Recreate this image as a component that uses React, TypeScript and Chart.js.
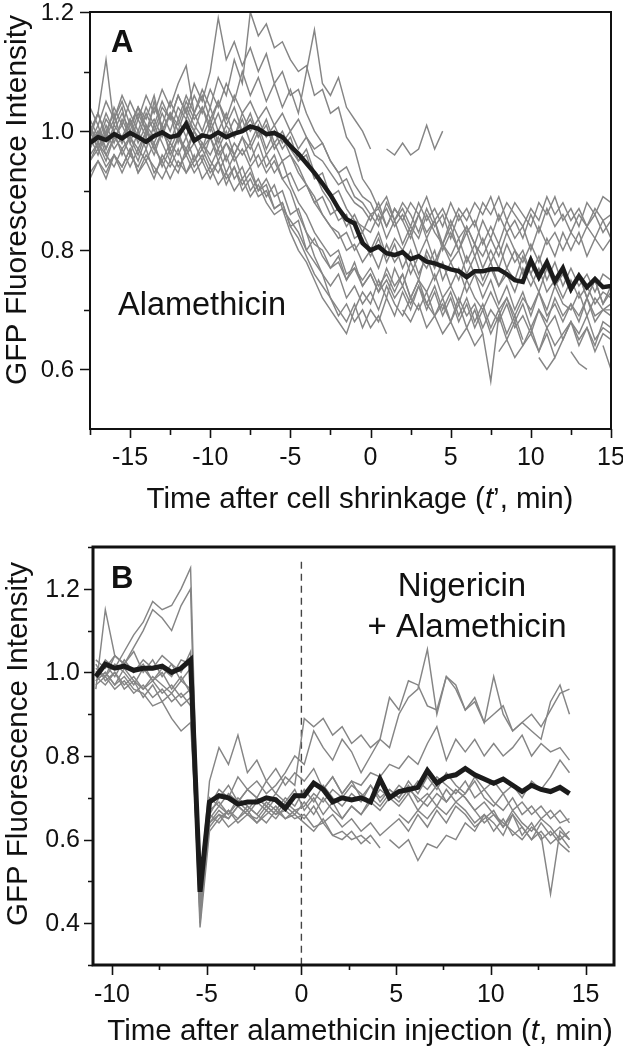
import React, { useEffect, useRef } from "react";
import { Chart, registerables } from "chart.js";

Chart.register(...registerables);

// ---------------- Panel A data ----------------
const timeA = [
  -17.5, -17, -16.5, -16, -15.5, -15, -14.5, -14, -13.5, -13, -12.5, -12, -11.5, -11, -10.5,
  -10, -9.5, -9, -8.5, -8, -7.5, -7, -6.5, -6, -5.5, -5, -4.5, -4, -3.5, -3, -2.5, -2, -1.5,
  -1, -0.5, 0, 0.5, 1, 1.5, 2, 2.5, 3, 3.5, 4, 4.5, 5, 5.5, 6, 6.5, 7, 7.5, 8, 8.5, 9, 9.5,
  10, 10.5, 11, 11.5, 12, 12.5, 13, 13.5, 14, 14.5, 15,
];

const meanA = [
  0.98, 0.99, 0.985, 0.995, 0.988, 0.997, 0.99, 0.982, 0.992, 0.998,
  0.99, 0.993, 1.012, 0.984, 0.993, 0.99, 0.998, 0.99, 0.996, 1.0,
  1.008, 1.004, 0.995, 0.997, 0.99, 0.975, 0.962, 0.946, 0.93, 0.912,
  0.893, 0.87, 0.852, 0.845, 0.812, 0.8, 0.806, 0.795, 0.792, 0.797,
  0.785, 0.79, 0.781, 0.778, 0.773, 0.768, 0.765, 0.755, 0.765, 0.765,
  0.768, 0.768, 0.76, 0.75, 0.747, 0.783, 0.755, 0.78, 0.748, 0.77,
  0.735, 0.757, 0.738, 0.752, 0.738, 0.74,
];

const traceA01 = [
  0.99, 1.03, 1.12, 1.01, 1.04, 0.98, 1.02, 0.99, 1.05, 1.0, 1.03, 0.98, 1.02, 1.0, 0.97,
  1.01, 0.97, 1.0, 0.96, 0.99, 0.95, 0.98, 0.94, 0.96, 0.92, 0.93, 0.9, 0.91, 0.88, 0.89,
  0.86, 0.87, 0.84, 0.86, 0.83, 0.86, 0.84, 0.88, 0.85, 0.87, 0.84, 0.88, 0.85, 0.87, 0.84,
  0.88, 0.85, 0.87, 0.84, 0.88, 0.86, 0.89, 0.85, 0.88, 0.86, 0.84, 0.88, 0.86, 0.89, 0.85,
  0.87, 0.84, 0.88, 0.86, 0.89, 0.88,
];
const traceA02 = [
  0.96, 0.98, 0.95, 0.99, 0.97, 0.99, 0.96, 1.0, 0.97, 0.95, 0.98, 0.96, 0.99, 0.95, 0.97,
  0.94, 0.97, 0.93, 0.96, 0.92, 0.94, 0.9, 0.91, 0.87, 0.88, 0.84, 0.85, 0.8, 0.78, 0.76,
  0.74, 0.76, 0.72, 0.74, 0.71, 0.73, 0.7, 0.74, 0.71, 0.69, 0.72, 0.7, 0.73, 0.69, 0.71,
  0.68, 0.72, 0.69, 0.71, 0.67, 0.7, 0.68, 0.71, 0.67, 0.69, 0.66, 0.7, 0.67, 0.69, 0.65,
  0.68, 0.66, 0.69, 0.65, 0.67, 0.66,
];
const traceA03 = [
  0.93, 0.95, 0.92, 0.96, 0.94, 0.97, 0.93, 0.96, 0.94, 0.92, 0.95, 0.93, 0.97, 0.94, 0.96,
  0.93, 0.95, 0.92, 0.94, 0.91, 0.93, 0.9, 0.92, 0.89, 0.9, 0.86, 0.87, 0.83, 0.81, 0.8,
  0.77, 0.78, 0.75, 0.77, 0.74, 0.76, 0.73, 0.77, 0.74, 0.76, 0.72, 0.75, 0.73, 0.76, 0.72,
  0.74, 0.71, 0.75, 0.72, 0.7, 0.73, 0.7, 0.72, 0.69, 0.72, 0.7, 0.73, 0.69, 0.71, 0.68,
  0.71, 0.69, 0.72, 0.68, 0.7, 0.69,
];
const traceA04 = [
  1.0, 1.03, 0.99, 1.04, 1.01, 1.05, 1.02, 1.06, 1.03, 1.07, 1.04, 1.08, 1.11, 1.03, 1.06,
  1.02, 1.05, 1.01, 1.04, 1.0, 1.03, 0.99, 1.02, 0.98, 1.0, 0.97, 0.95, 0.96, 0.92, 0.93,
  0.89, 0.9, 0.87, 0.85, 0.84, 0.83, 0.86, 0.82, 0.85, 0.81, 0.84, 0.82, 0.86, 0.83, 0.81,
  0.85, 0.82, 0.84, 0.81, 0.85, 0.82, 0.86, 0.83, 0.85, 0.82, 0.86, 0.83, 0.87, 0.84, 0.86,
  0.83, 0.86, 0.84, 0.87, 0.85, 0.86,
];
const traceA05 = [
  0.98, 1.0, 0.97, 1.01, 0.99, 1.02, 0.99, 1.03, 1.0, 1.04, 1.02, 1.06, 1.03, 1.08, 1.05,
  1.1, 1.19, 1.12, 1.15, 1.11, 1.14, 1.1, 1.13, 1.08, 1.1, 1.06, 1.07, 1.03, 1.0, 0.98,
  0.95, 0.93, 0.9, 0.88, 0.87, 0.85, 0.88, 0.84, 0.87, 0.85, 0.88, 0.86, 0.89, 0.85, 0.87,
  0.84, 0.87, 0.85, 0.88, 0.86, 0.89, 0.85, 0.88, 0.86, 0.84, 0.87, 0.85, 0.89, 0.86, 0.88,
  0.85, 0.87, 0.84, 0.86, 0.83, 0.85,
];
const traceA06 = [
  1.0, 0.97, 1.01, 0.98, 1.02, 0.99, 1.03, 1.0, 1.04, 1.01, 1.05, 1.02, 1.06, 1.03, 1.07,
  1.04, 1.09, 1.06, 1.12, 1.08, 1.2, 1.16, 1.18, 1.14, 1.15, 1.12, 1.1, 1.11, 1.06, 1.07,
  1.03, 1.04, 0.99, 0.97, 0.92, 0.9, 0.87, 0.89, 0.85, 0.88, 0.86, 0.83, 0.87, 0.84, 0.86,
  0.82, 0.86, 0.83, 0.85, 0.81, 0.84, 0.81, 0.85, 0.82, 0.84, 0.8, 0.84, 0.81, 0.83, 0.8,
  0.83, 0.81, 0.84, 0.82, 0.85, 0.82,
];
const traceA07 = [
  1.01, 0.98, 1.02, 1.0, 1.03, 1.0, 1.04, 1.01, 0.99, 1.03, 1.0, 1.04, 1.02, 1.06, 1.03,
  1.07, 1.04, 1.08, 1.05, 1.1, 1.06, 1.09, 1.05, 1.08, 1.04, 1.07, 1.03, 1.1, 1.17, 1.08,
  1.06, 1.09, 1.04, 1.02, 1.0, 0.97, null, 0.97, 0.96, 0.98, 0.96, 0.97, 1.01, 0.97, 1.0,
  null, null, null, null, null, null, null, null, null, null, null, null, null, null, null,
  null, null, null, null, null, null,
];
const traceA08 = [
  0.97, 1.0, 0.96, 0.99, 1.01, 0.98, 0.95, 0.99, 0.96, 1.0, 0.97, 1.0, 0.96, 0.98, 0.95,
  0.99, 0.96, 0.98, 0.95, 0.97, 0.94, 0.96, 0.93, 0.95, 0.92, 0.9, 0.86, 0.83, 0.79, 0.76,
  0.72, 0.7, 0.68, 0.71, 0.67, 0.7, 0.68, 0.72, 0.69, 0.73, 0.7, 0.74, 0.71, 0.69, 0.72,
  0.68, 0.71, 0.67, 0.7, 0.66, 0.58, 0.69, 0.72, 0.68, 0.71, 0.67, 0.7, 0.68, 0.72, 0.69,
  0.71, 0.68, 0.72, 0.69, 0.7, 0.7,
];
const traceA09 = [
  0.99, 0.96, 1.0, 0.97, 0.99, 0.96, 1.0, 0.97, 1.01, 0.98, 0.95, 0.99, 0.96, 1.0, 0.97,
  0.99, 0.95, 0.98, 0.96, 0.99, 0.97, 1.0, 0.96, 0.98, 0.95, 0.96, 0.93, 0.91, 0.88, 0.86,
  0.84, 0.83, 0.8, 0.81, 0.78, 0.8, 0.77, 0.81, 0.78, 0.8, 0.76, 0.79, 0.77, 0.8, 0.75,
  0.78, 0.75, 0.79, 0.76, 0.74, 0.77, 0.74, 0.76, 0.73, 0.77, 0.74, 0.77, 0.73, 0.75, 0.72,
  0.75, 0.72, 0.74, 0.71, 0.73, 0.72,
];
const traceA10 = [
  0.95, 0.97, 0.94, 0.96, 0.93, 0.96, 0.94, 0.97, 0.93, 0.95, 0.92, 0.95, 0.93, 0.96, 0.92,
  0.94, 0.91, 0.93, 0.9, 0.92, 0.89, 0.91, 0.88, 0.86, 0.87, 0.83, 0.8, 0.78, 0.75, 0.72,
  0.7, 0.68, 0.66, 0.7, 0.73, 0.71, 0.75, 0.72, 0.77, 0.74, 0.78, 0.75, 0.8, 0.77, 0.81,
  0.78, 0.8, 0.76, 0.79, 0.75, 0.78, 0.74, 0.77, 0.75, 0.79, 0.76, 0.73, 0.77, 0.74, 0.76,
  0.73, 0.76, 0.72, 0.75, 0.71, 0.73,
];
const traceA11 = [
  1.02, 0.99, 1.03, 1.0, 0.98, 1.01, 1.04, 1.0, 1.02, 0.99, 1.03, 1.0, 1.04, 1.01, 0.99,
  1.02, 0.98, 1.01, 0.99, 1.03, 1.0, 1.02, 0.99, 1.01, 0.98, 1.0, 0.97, 0.99, 0.96, 0.95,
  0.93, 0.91, 0.92, 0.89, 0.88, 0.86, 0.87, 0.84, 0.87, 0.85, 0.82, 0.86, 0.83, 0.85, 0.8,
  0.83, 0.8, 0.84, 0.81, 0.79, 0.82, 0.79, 0.83, 0.8, 0.78, 0.81, 0.78, 0.82, 0.79, 0.83,
  0.8, 0.83, 0.79, 0.82, 0.8, 0.82,
];
const traceA12 = [
  0.98, 1.01, 0.97, 1.0, 0.96, 0.99, 0.97, 1.0, 0.98, 1.01, 0.96, 0.99, 0.97, 1.0, 0.98,
  0.96, 0.99, 0.95, 0.98, 0.96, 0.98, 0.94, 0.96, 0.93, 0.95, 0.91, 0.88, 0.86, 0.83, 0.81,
  0.79, 0.8, 0.76, 0.77, 0.75, 0.77, 0.74, 0.76, 0.73, 0.76, 0.72, 0.75, 0.71, 0.74, 0.7,
  0.73, 0.69, 0.72, 0.68, 0.71, 0.67, 0.7, 0.66, 0.69, 0.65, null, 0.62, 0.6, 0.62, null,
  0.63, 0.61, 0.6, null, 0.64, 0.6,
];
const traceA13 = [
  1.0, 1.03, 0.99, 1.02, 1.05, 1.01, 1.04, 1.02, 1.06, 1.0, 1.03, 1.01, 1.05, 1.02, 1.04,
  1.0, 1.03, 0.99, 1.02, 1.0, 1.02, 0.99, 1.01, 0.97, 0.99, 0.96, 0.94, 0.91, 0.89, 0.86,
  0.84, 0.82, 0.83, 0.8, 0.82, 0.79, 0.82, 0.78, 0.81, 0.77, 0.8, 0.76, 0.79, 0.75, 0.78,
  0.74, 0.77, 0.73, 0.76, 0.72, 0.75, 0.71, 0.74, 0.7, 0.73, 0.69, 0.73, 0.7, 0.74, 0.71,
  0.7, 0.73, 0.69, 0.72, 0.7, 0.71,
];
const traceA14 = [
  0.95, 0.98, 0.96, 0.94, 0.97, 0.94, 0.97, 0.95, 0.98, 0.94, 0.97, 0.94, 0.96, 0.93, 0.95,
  0.92, 0.95, 0.91, 0.94, 0.9, 0.92, 0.89, 0.9, 0.87, 0.88, 0.84, 0.82, 0.79, 0.76, 0.74,
  0.72, 0.69, 0.71, 0.68, 0.7, 0.67, 0.69, 0.66, null, 0.7, 0.68, 0.71, 0.67, 0.69, 0.66,
  0.68, 0.65, 0.67, 0.64, 0.66, null, 0.63, 0.65, 0.62, 0.64, 0.66, 0.63, 0.67, 0.64, 0.66,
  0.68, 0.65, 0.67, 0.64, 0.68, 0.67,
];
const traceA15 = [
  1.04, 1.01, 1.05, 1.02, 1.06, 1.03, 1.0, 1.04, 1.01, 1.05, 1.02, 1.06, 1.03, 1.0, 1.04,
  1.01, 1.05, 1.02, 1.06, 1.03, 1.05, 1.02, 1.04, 1.01, 1.03, 1.0, 1.02, 0.99, 0.97, 0.98,
  0.95, 0.93, 0.94, 0.91, 0.89, 0.88, 0.85, 0.87, 0.84, 0.86, 0.83, 0.86, 0.82, 0.85, 0.81,
  0.84, 0.8, 0.83, 0.79, 0.82, 0.78, 0.81, 0.77, 0.8, 0.76, 0.79, 0.75, 0.78, 0.74, 0.77,
  0.73, 0.76, 0.72, 0.75, 0.71, 0.74,
];
const traceA16 = [
  0.92, 0.95, 0.93, 0.96, 0.94, 0.97, 0.93, 0.95, 0.92, 0.96, 0.94, 0.97, 0.93, 0.95, 0.98,
  0.95, 0.93, 0.96, 0.92, 0.94, 0.9, 0.92, 0.89, 0.91, 0.87, 0.85, 0.83, 0.8, 0.82, 0.79,
  0.77, 0.79, 0.75, 0.78, 0.74, 0.76, 0.73, 0.75, 0.72, 0.74, 0.71, 0.74, 0.7, 0.73, 0.69,
  0.72, 0.68, 0.71, 0.67, 0.7, 0.66, 0.69, 0.65, 0.68, 0.64, 0.67, 0.63, 0.66, 0.62, 0.65,
  0.68, 0.64, 0.67, 0.63, 0.66, 0.65,
];
const traceA17 = [
  1.01, 0.97, 1.0, 1.03, 0.98, 1.02, 0.98, 1.01, 0.97, 1.0, 0.98, 1.02, 0.99, 1.03, 1.0,
  1.04, 1.0, 1.03, 0.99, 1.02, 0.98, 1.01, 0.97, 1.0, 0.97, 0.99, 0.95, 0.97, 0.93, 0.9,
  0.88, 0.85, 0.86, 0.82, 0.83, 0.8, 0.83, 0.79, 0.82, 0.8, 0.83, 0.79, 0.82, 0.78, 0.81,
  0.79, 0.82, 0.78, 0.81, 0.77, 0.8, 0.77, 0.81, 0.78, 0.8, 0.76, 0.79, 0.75, 0.78, 0.74,
  0.77, 0.74, 0.76, 0.73, 0.76, 0.75,
];

const grayTracesA = [
  traceA01, traceA02, traceA03, traceA04, traceA05, traceA06, traceA07, traceA08, traceA09,
  traceA10, traceA11, traceA12, traceA13, traceA14, traceA15, traceA16, traceA17,
];

// ---------------- Panel B data ----------------
const timeB = [
  -10.85, -10.35, -9.85, -9.35, -8.85, -8.35, -7.85, -7.35, -6.85, -6.35, -5.85, -5.35,
  -4.85, -4.35, -3.85, -3.35, -2.85, -2.35, -1.85, -1.35, -0.85, -0.35,
  0.15, 0.65, 1.15, 1.65, 2.15, 2.65, 3.15, 3.65, 4.15, 4.65,
  5.15, 5.65, 6.15, 6.65, 7.15, 7.65, 8.15, 8.65, 9.15, 9.65,
  10.15, 10.65, 11.15, 11.65, 12.15, 12.65, 13.15, 13.65, 14.15,
];

const meanB = [
  0.99, 1.02, 1.01, 1.015, 1.005, 1.01, 1.01, 1.015, 1.0, 1.01, 1.03,
  0.475,
  0.69, 0.705, 0.7, 0.685, 0.69, 0.69, 0.7, 0.695, 0.675, 0.705,
  0.705, 0.735, 0.72, 0.69, 0.7, 0.695, 0.7, 0.69, 0.745, 0.7,
  0.715, 0.72, 0.725, 0.765, 0.735, 0.75, 0.755, 0.77, 0.755, 0.745,
  0.735, 0.745, 0.73, 0.715, 0.73, 0.72, 0.715, 0.725, 0.71,
];

const traceB01 = [
  0.99, 1.03, 1.01, 1.05, 1.09, 1.12, 1.17, 1.15, 1.16, 1.2, 1.25,
  0.44,
  0.68, 0.72, 0.7, 0.75, 0.72, 0.74, 0.71, 0.73, 0.76, 0.8,
  0.78, 0.86, 0.82, 0.79, 0.84, 0.81, 0.76, 0.8, 0.84, 0.82,
  0.9, 0.94, 0.96, 1.055, 0.9, 0.99, 0.96, 0.91, 0.93, 0.88,
  0.99, 0.9, 0.86, 0.88, 0.86, 0.84, 0.93, 0.97, 0.9,
];
const traceB02 = [
  1.0, 0.99, 1.04, 1.02, 1.06, 1.1, 1.15, 1.13, 1.1, 1.16, 1.2,
  0.4,
  0.66, 0.7, 0.73, 0.69, 0.72, 0.7, 0.74, 0.71, 0.75, 0.73,
  0.89, 0.87, 0.89, 0.85, 0.87, 0.83, 0.85, 0.82, 0.84, 0.94,
  0.91, 0.98, 0.97, 0.92, 0.91, 0.99, 0.97, 0.91, 0.94, 0.88,
  0.9, 0.92, 0.86, 0.88, 0.9, 0.87, 0.91, 0.95, 0.96,
];
const traceB03 = [
  0.98, 1.0, 0.97, 0.99, 0.96, 0.95, 0.92, 0.93, 0.89, 0.86, 0.88,
  0.48,
  0.63, 0.66, 0.65, 0.68, 0.66, 0.69, 0.67, 0.7, 0.68, 0.71,
  0.7, 0.73, 0.72, 0.75, 0.71, 0.74, 0.73, 0.76, 0.75, 0.78,
  0.77, 0.8, 0.78, 0.83, 0.87, 0.79, 0.84, 0.81, 0.84, 0.8,
  0.83, 0.8, 0.82, 0.85, 0.8, 0.83, 0.81, 0.82, 0.79,
];
const traceB04 = [
  0.96, 1.15, 1.04, 1.02, 1.05, 1.0, 1.03, 0.99, 1.02, 0.98, 1.01,
  0.46,
  0.65, 0.68, 0.66, 0.69, 0.67, 0.7, 0.68, 0.66, 0.69, 0.67,
  0.68, 0.71, 0.69, 0.72, 0.7, 0.73, 0.71, 0.69, 0.72, 0.7,
  0.73, 0.71, 0.74, 0.72, 0.75, 0.73, 0.71, 0.74, 0.7, 0.72,
  0.69, 0.67, 0.7, 0.66, 0.68, 0.65, 0.67, 0.64, 0.65,
];
const traceB05 = [
  0.98, 1.0, 0.97, 1.01, 0.98, 0.96, 0.99, 0.97, 0.95, 0.98, 0.96,
  0.39,
  0.62, 0.65, 0.67, 0.64, 0.66, 0.65, 0.68, 0.66, 0.67, 0.65,
  0.66, 0.63, 0.64, 0.61, 0.62, 0.6, 0.61, 0.59, null, 0.6,
  0.58, 0.6, 0.55, 0.59, 0.58, 0.61, 0.6, 0.64, 0.62, 0.66,
  0.64, 0.61, 0.66, 0.63, 0.6, 0.64, 0.61, 0.63, 0.6,
];
const traceB06 = [
  1.02, 0.98, 1.0, 0.97, 0.99, 0.96, 0.98, 0.95, 0.97, 0.94, 0.96,
  0.5,
  0.7, 0.68, 0.71, 0.69, 0.72, 0.7, 0.68, 0.71, 0.69, 0.72,
  0.67, 0.7, 0.66, 0.69, 0.65, 0.68, 0.66, 0.7, 0.68, 0.71,
  0.69, 0.72, 0.7, 0.68, 0.71, 0.69, 0.72, 0.7, 0.67, 0.69,
  0.66, 0.64, 0.62, 0.6, 0.63, 0.61, 0.47, 0.62, 0.6,
];
const traceB07 = [
  1.0, 1.02, 0.99, 1.03, 1.0, 1.02, 0.98, 1.01, 0.99, 1.03, 1.02,
  0.45,
  0.67, 0.69, 0.66, 0.7, 0.68, 0.66, 0.69, 0.67, 0.7, 0.68,
  0.72, 0.69, 0.73, 0.7, 0.68, 0.71, 0.69, 0.73, 0.7, 0.72,
  0.7, 0.74, 0.71, 0.75, 0.72, 0.76, 0.73, 0.71, 0.75, 0.72,
  0.74, 0.71, 0.73, 0.7, 0.74, 0.72, 0.75, 0.79, 0.76,
];
const traceB08 = [
  1.01, 0.99, 1.02, 1.0, 0.97, 1.01, 0.98, 1.0, 0.96, 0.99, 0.95,
  0.47,
  0.66, 0.64, 0.67, 0.65, 0.68, 0.66, 0.64, 0.67, 0.65, 0.66,
  0.64, 0.62, 0.65, 0.61, 0.6, 0.62, 0.59, 0.61, 0.58, null,
  0.66, 0.64, 0.67, 0.65, 0.68, 0.66, 0.69, 0.67, 0.64, 0.66,
  0.62, 0.65, 0.61, 0.63, 0.6, 0.62, 0.59, 0.61, 0.58,
];
const traceB09 = [
  0.97, 0.99, 0.96, 0.98, 0.95, 0.97, 0.94, 0.96, 0.93, 0.95, 0.92,
  0.42,
  0.64, 0.66, 0.63, 0.65, 0.67, 0.64, 0.66, 0.68, 0.65, 0.67,
  0.65, 0.68, 0.64, 0.66, 0.63, 0.65, 0.62, 0.64, 0.61, 0.63,
  0.65, 0.62, 0.66, 0.63, 0.67, 0.64, 0.68, 0.66, 0.63, 0.65,
  0.67, 0.63, 0.66, 0.61, 0.64, 0.6, 0.62, 0.59, 0.57,
];
const traceB10 = [
  1.03, 1.01, 1.04, 1.02, 1.0, 1.03, 1.01, 1.04, 1.02, 1.0, 1.05,
  0.49,
  0.74, 0.82, 0.78, 0.85, 0.76, 0.79, 0.74, 0.77, 0.73, 0.76,
  0.74, 0.77, 0.72, 0.75, 0.71, 0.74, 0.7, 0.73, 0.69, 0.72,
  0.7, 0.73, 0.69, 0.71, 0.68, 0.72, 0.69, 0.71, 0.74, 0.7,
  0.68, 0.71, 0.67, 0.69, 0.66, 0.68, 0.65, 0.67, 0.64,
];
const traceB11 = [
  0.99, 0.97, 1.0, 0.96, 0.98, 0.94, 0.97, 0.93, 0.95, 0.92, 0.94,
  0.43,
  0.64, 0.67, 0.65, 0.68, 0.66, 0.64, 0.67, 0.65, 0.68, 0.66,
  0.69, 0.66, 0.7, 0.67, 0.65, 0.68, 0.66, 0.69, 0.67, 0.7,
  0.68, 0.71, 0.67, 0.7, 0.73, 0.69, 0.72, 0.7, 0.67, 0.64,
  0.66, 0.63, 0.67, 0.64, 0.62, 0.65, 0.63, 0.6, 0.62,
];

const grayTracesB = [
  traceB01, traceB02, traceB03, traceB04, traceB05, traceB06, traceB07, traceB08, traceB09,
  traceB10, traceB11,
];

// injection marker (t = 0)
const injectionTime = [0, 0];
const injectionLevel = [1.265, 0.3];

// ---------------- ticks and labels ----------------
const xMajorA = [-15, -10, -5, 0, 5, 10, 15];
const xMinorA = [-17.5, -12.5, -7.5, -2.5, 2.5, 7.5, 12.5];
const yMajorA = [0.6, 0.8, 1.0, 1.2];
const yMinorA = [0.7, 0.9, 1.1];

const xMajorB = [-10, -5, 0, 5, 10, 15];
const xMinorB = [-7.5, -2.5, 2.5, 7.5, 12.5];
const yMajorB = [0.4, 0.6, 0.8, 1.0, 1.2];
const yMinorB = [0.3, 0.5, 0.7, 0.9, 1.1, 1.3];

const yTitleText = "GFP Fluorescence Intensity";
const xTitleA = [
  { text: "Time after cell shrinkage (", italic: false },
  { text: "t", italic: true },
  { text: "\u2019, min)", italic: false },
];
const xTitleB = [
  { text: "Time after alamethicin injection (", italic: false },
  { text: "t", italic: true },
  { text: ", min)", italic: false },
];

const FONT = '"Liberation Sans", Arial, Helvetica, sans-serif';
const GRAY = "#858585";
const DARK = "#1b1b1b";

function makeDeco(cfg: any) {
  return {
    id: "deco" + cfg.name,
    afterDatasetsDraw(chart: any) {
      const ctx = chart.ctx;
      const xs = chart.scales.x;
      const ys = chart.scales.y;
      const a = chart.chartArea;
      ctx.save();
      ctx.strokeStyle = "#111";
      ctx.lineWidth = cfg.borderWidth;
      ctx.setLineDash([]);
      ctx.strokeRect(a.left, a.top, a.right - a.left, a.bottom - a.top);
      ctx.lineWidth = cfg.tickWidth;
      ctx.beginPath();
      const xt = (vals: number[], len: number) => {
        for (const v of vals) {
          const px = Math.round(xs.getPixelForValue(v)) + 0.5;
          ctx.moveTo(px, a.bottom);
          ctx.lineTo(px, a.bottom + len);
        }
      };
      const yt = (vals: number[], len: number) => {
        for (const v of vals) {
          const py = Math.round(ys.getPixelForValue(v)) + 0.5;
          ctx.moveTo(a.left, py);
          ctx.lineTo(a.left - len, py);
        }
      };
      xt(cfg.xMajor, cfg.xMajorLen);
      xt(cfg.xMinor, cfg.xMinorLen);
      yt(cfg.yMajor, cfg.yMajorLen);
      yt(cfg.yMinor, cfg.yMinorLen);
      ctx.stroke();
      ctx.fillStyle = "#111";
      ctx.font = `${cfg.tickFontX}px ${FONT}`;
      ctx.textAlign = "center";
      ctx.textBaseline = "alphabetic";
      for (const v of cfg.xMajor) {
        ctx.fillText(String(v), xs.getPixelForValue(v), cfg.xLabelBaseline);
      }
      ctx.font = `${cfg.tickFontY}px ${FONT}`;
      ctx.textAlign = "right";
      ctx.textBaseline = "middle";
      for (const v of cfg.yMajor) {
        ctx.fillText(v.toFixed(1), cfg.yLabelRight, ys.getPixelForValue(v) + 1);
      }
      ctx.textBaseline = "alphabetic";
      ctx.textAlign = "left";
      const segFont = (s: any) => `${s.italic ? "italic " : ""}${cfg.titleFont}px ${FONT}`;
      let total = 0;
      for (const s of cfg.xTitle) {
        ctx.font = segFont(s);
        total += ctx.measureText(s.text).width;
      }
      let cx = cfg.xTitleX - total / 2;
      for (const s of cfg.xTitle) {
        ctx.font = segFont(s);
        ctx.fillText(s.text, cx, cfg.xTitleY);
        cx += ctx.measureText(s.text).width;
      }
      ctx.save();
      ctx.translate(cfg.yTitleX, cfg.yTitleY);
      ctx.rotate(-Math.PI / 2);
      ctx.font = `${cfg.yTitleFont}px ${FONT}`;
      ctx.textAlign = "center";
      ctx.textBaseline = "alphabetic";
      ctx.fillText(cfg.yTitle, 0, 0);
      ctx.restore();
      for (const t of cfg.texts) {
        ctx.font = `${t.bold ? "bold " : ""}${t.size}px ${FONT}`;
        ctx.textAlign = t.align;
        ctx.textBaseline = "alphabetic";
        ctx.fillText(t.text, t.x, t.y);
      }
      ctx.restore();
    },
  };
}

function buildSeries(times: number[], vals: (number | null)[]) {
  return times.map((t, i) => ({ x: t, y: vals[i] }));
}

function configFor(panel: "A" | "B") {
  const isA = panel === "A";
  const times = isA ? timeA : timeB;
  const mean = isA ? meanA : meanB;
  const grays = isA ? grayTracesA : grayTracesB;
  const datasets: any[] = [
    {
      data: buildSeries(times, mean),
      borderColor: DARK,
      borderWidth: isA ? 4.5 : 5,
      pointRadius: 0,
      spanGaps: false,
      borderJoinStyle: "miter",
    },
    ...grays.map((g) => ({
      data: buildSeries(times, g),
      borderColor: GRAY,
      borderWidth: 1.45,
      pointRadius: 0,
      spanGaps: false,
    })),
  ];
  if (!isA) {
    datasets.push({
      data: buildSeries(injectionTime, injectionLevel),
      borderColor: "#444",
      borderWidth: 1.4,
      borderDash: [7, 5],
      pointRadius: 0,
    });
  }
  const deco = isA
    ? makeDeco({
        name: "A",
        borderWidth: 2,
        tickWidth: 1.6,
        xMajor: xMajorA,
        xMinor: xMinorA,
        yMajor: yMajorA,
        yMinor: yMinorA,
        xMajorLen: 9,
        xMinorLen: 6,
        yMajorLen: 10,
        yMinorLen: 6,
        tickFontX: 25,
        tickFontY: 24,
        xLabelBaseline: 465,
        yLabelRight: 74,
        xTitle: xTitleA,
        xTitleX: 360,
        xTitleY: 508,
        titleFont: 29.5,
        yTitle: yTitleText,
        yTitleX: 26,
        yTitleY: 200,
        yTitleFont: 30,
        texts: [
          { text: "A", x: 111, y: 52, size: 31, bold: true, align: "left" },
          { text: "Alamethicin", x: 118, y: 315, size: 32.5, bold: false, align: "left" },
        ],
      })
    : makeDeco({
        name: "B",
        borderWidth: 3,
        tickWidth: 1.6,
        xMajor: xMajorB,
        xMinor: xMinorB,
        yMajor: yMajorB,
        yMinor: yMinorB,
        xMajorLen: 10,
        xMinorLen: 5,
        yMajorLen: 9,
        yMinorLen: 5,
        tickFontX: 25,
        tickFontY: 25,
        xLabelBaseline: 482,
        yLabelRight: 80,
        xTitle: xTitleB,
        xTitleX: 360,
        xTitleY: 520,
        titleFont: 29.5,
        yTitle: yTitleText,
        yTitleX: 27,
        yTitleY: 224,
        yTitleFont: 29.5,
        texts: [
          { text: "B", x: 111, y: 68, size: 31, bold: true, align: "left" },
          { text: "Nigericin", x: 462, y: 76, size: 33, bold: false, align: "center" },
          { text: "+ Alamethicin", x: 467, y: 117, size: 33, bold: false, align: "center" },
        ],
      });
  return {
    type: "line" as const,
    data: { datasets },
    options: {
      responsive: false,
      animation: false as const,
      devicePixelRatio: 1,
      events: [],
      parsing: true,
      layout: {
        padding: isA
          ? { left: 90, top: 12, right: 12, bottom: 91 }
          : { left: 93, top: 27, right: 9, bottom: 85 },
      },
      elements: { line: { tension: 0 }, point: { radius: 0 } },
      plugins: { legend: { display: false }, tooltip: { enabled: false } },
      scales: {
        x: { type: "linear", display: false, min: isA ? -17.5 : -11, max: isA ? 15 : 16.5 },
        y: { type: "linear", display: false, min: isA ? 0.5 : 0.3, max: isA ? 1.2 : 1.3 },
      },
    },
    plugins: [deco],
  };
}

export default function App() {
  const refA = useRef<HTMLCanvasElement>(null);
  const refB = useRef<HTMLCanvasElement>(null);
  useEffect(() => {
    const a = new Chart(refA.current as HTMLCanvasElement, configFor("A") as any);
    const b = new Chart(refB.current as HTMLCanvasElement, configFor("B") as any);
    return () => {
      a.destroy();
      b.destroy();
    };
  }, []);
  return (
    <div style={{ position: "absolute", left: 0, top: 0, width: 623, height: 1050, background: "#fff" }}>
      <canvas ref={refA} width={623} height={520} style={{ position: "absolute", left: 0, top: 0 }} />
      <canvas ref={refB} width={623} height={530} style={{ position: "absolute", left: 0, top: 520 }} />
    </div>
  );
}
